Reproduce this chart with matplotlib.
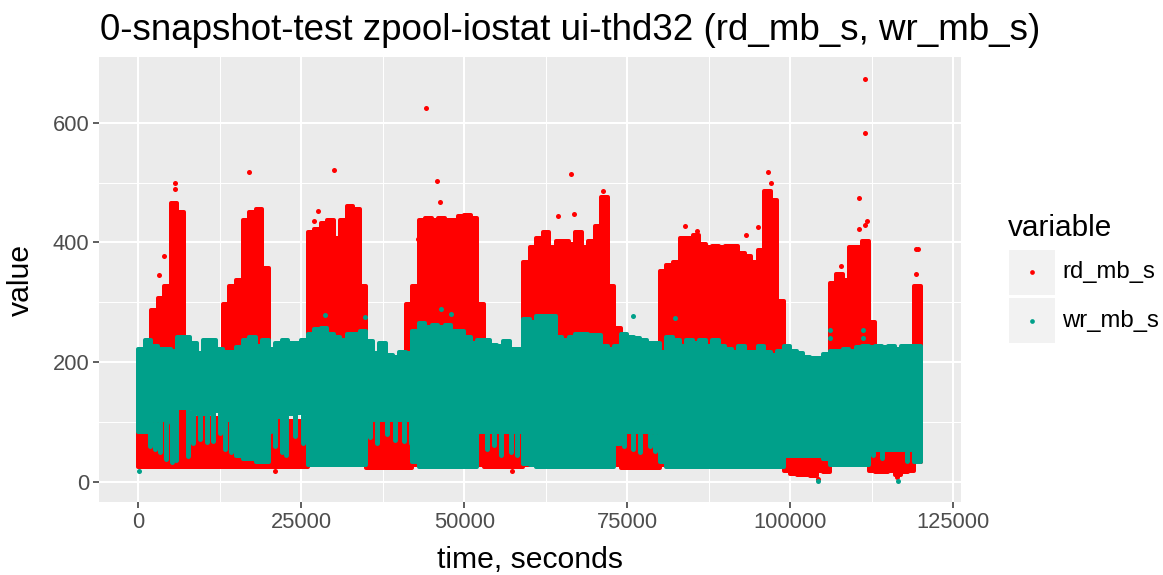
import numpy as np
import matplotlib
matplotlib.use("Agg")
import matplotlib.pyplot as plt
from matplotlib import font_manager
from matplotlib.lines import Line2D
from matplotlib.patches import Rectangle

# Helvetica-like font (Arial metrics)
avail = {f.name for f in font_manager.fontManager.ttflist}
prefs = ["Liberation Sans", "Arimo", "DejaVu Sans"]
fams = [f for f in prefs if f in avail][:1] + ["DejaVu Sans"]
plt.rcParams["font.family"] = fams

RD = "#FF0000"
WR = "#00A08A"

# time bins of 1000 s, 0 .. 120000 s
bin_w = 1000
n_bins = 120

# rd_mb_s: dense band per bin (low edge, high edge)
rd_lo = [22, 22, 22, 22, 22, 22, 22, 22, 22, 22, 22, 22, 22, 22, 22, 22, 22, 22, 22, 22,
         22, 22, 22, 22, 22, 22, 25, 25, 25, 25, 25, 25, 25, 25, 25, 20, 20, 20, 20, 20,
         20, 20, 25, 25, 25, 25, 25, 25, 25, 25, 25, 25, 25, 22, 22, 22, 22, 22, 22, 25,
         25, 25, 25, 25, 25, 25, 25, 25, 25, 25, 25, 25, 25, 25, 20, 20, 20, 20, 20, 20,
         25, 25, 25, 25, 25, 25, 25, 25, 25, 25, 25, 25, 25, 25, 25, 25, 25, 25, 25, 15,
         10, 8, 8, 6, 14, 12, 25, 25, 25, 25, 25, 25, 15, 12, 12, 15, 8, 12, 15, 30]
rd_hi = [150, 150, 290, 310, 330, 470, 455, 110, 110, 110, 110, 110, 110, 300, 330, 340, 440, 455, 460, 360,
         105, 105, 105, 105, 105, 105, 420, 425, 435, 440, 410, 440, 465, 460, 330, 105, 105, 105, 105, 105,
         105, 300, 330, 440, 445, 440, 445, 440, 440, 448, 450, 445, 300, 90, 90, 90, 90, 90, 90, 370,
         395, 410, 420, 395, 405, 405, 400, 420, 395, 405, 430, 480, 330, 260, 80, 80, 80, 80, 80, 150,
         355, 365, 370, 410, 410, 415, 400, 395, 398, 395, 398, 398, 385, 380, 370, 390, 490, 475, 305, 200,
         60, 60, 60, 60, 60, 120, 335, 350, 340, 395, 395, 405, 270, 65, 65, 65, 65, 65, 80, 330]

# wr_mb_s: dense band per bin
wr_lo = [80, 80, 100, 100, 100, 95, 120, 120, 120, 110, 110, 115, 115, 100, 100, 40, 35, 35, 30, 30,
         105, 105, 110, 110, 112, 112, 25, 25, 25, 25, 25, 25, 25, 25, 25, 100, 100, 100, 100, 100,
         100, 100, 30, 22, 22, 22, 22, 22, 22, 22, 22, 22, 80, 80, 80, 80, 80, 80, 80, 26,
         24, 22, 22, 22, 22, 22, 22, 22, 22, 22, 22, 22, 22, 60, 80, 80, 80, 80, 80, 80,
         30, 22, 22, 22, 22, 22, 22, 22, 22, 22, 22, 22, 22, 22, 22, 22, 22, 22, 22, 40,
         40, 40, 40, 40, 40, 35, 24, 24, 24, 24, 24, 24, 50, 50, 50, 50, 50, 50, 50, 30]
wr_hi = [225, 240, 230, 225, 225, 222, 245, 245, 235, 218, 240, 240, 225, 220, 220, 228, 240, 245, 230, 240,
         225, 235, 240, 235, 235, 240, 250, 258, 260, 250, 245, 240, 250, 250, 255, 238, 218, 235, 215, 212,
         220, 218, 255, 268, 262, 265, 262, 265, 255, 255, 245, 235, 240, 240, 232, 230, 238, 225, 225, 275,
         270, 280, 280, 280, 245, 240, 245, 250, 250, 248, 248, 230, 225, 230, 250, 245, 243, 240, 235, 235,
         220, 245, 240, 230, 240, 235, 240, 230, 240, 230, 225, 220, 230, 220, 220, 230, 220, 215, 222, 230,
         222, 218, 211, 210, 210, 216, 222, 222, 225, 222, 228, 230, 228, 230, 228, 230, 225, 230, 230, 230]

# sparse wr streaks below the dense band: time, bottom, top
wr_streak_t = [1800, 2600, 3300, 4300, 5200, 5800, 7700, 8400, 9500, 10600, 11500, 12500, 13300, 14200,
               20300, 21000, 22100, 22700, 24100, 25200, 35500, 36600, 38200, 39400, 40700, 41800,
               53500, 54500, 55700, 57200, 58100, 74500, 75800, 77000, 78400, 79300,
               112600, 114000, 117800]
wr_streak_lo = [55, 50, 45, 34, 28, 32, 39, 60, 67, 62, 64, 78, 50, 45,
                80, 55, 46, 40, 73, 60, 70, 60, 75, 65, 63, 60,
                50, 57, 40, 45, 40, 56, 50, 45, 55, 47,
                40, 35, 30]
wr_streak_hi = [100, 100, 100, 100, 100, 100, 120, 120, 110, 110, 115, 115, 100, 100,
                105, 105, 110, 110, 112, 112, 100, 100, 100, 100, 100, 100,
                80, 80, 80, 80, 80, 80, 80, 80, 80, 80,
                50, 50, 50]

# isolated points
rd_out_t = [3200, 4000, 5600, 5650, 17060, 26900, 27500, 29990, 42950, 44140, 45830, 46340,
            64300, 66370, 66800, 71300, 83900, 85700, 93200, 95100, 96500, 97000, 107800,
            110460, 110460, 111380, 111380, 111380, 111790, 119200, 119300, 119600,
            21000, 57300, 104300, 116330]
rd_out_v = [346, 377, 500, 490, 517, 436, 452, 521, 406, 625, 503, 468,
            444, 514, 447, 486, 427, 419, 413, 425, 517, 500, 361,
            475, 423, 674, 583, 429, 435, 389, 348, 389,
            18, 18, 4, 7]
wr_out_t = [100, 28700, 34800, 46400, 48000, 75870, 82360, 106000, 106000, 111100, 111100, 104220, 116480]
wr_out_v = [17, 279, 276, 289, 280, 277, 274, 253, 241, 253, 241, 1, 1]

title = "0-snapshot-test zpool-iostat ui-thd32 (rd_mb_s, wr_mb_s)"

W, H = 1163, 575
fig = plt.figure(figsize=(W / 100, H / 100), dpi=100)
L, R, T, B = 99, 961, 57, 502
ax = fig.add_axes([L / W, 1 - B / H, (R - L) / W, (B - T) / H])
ax.set_facecolor("#EBEBEB")
xlim = (-6000, 126150)
ylim = (-34, 710)
ax.set_xlim(*xlim)
ax.set_ylim(*ylim)
for s in ax.spines.values():
    s.set_visible(False)

ax.set_xticks([0, 25000, 50000, 75000, 100000, 125000])
ax.set_xticks([12500, 37500, 62500, 87500, 112500], minor=True)
ax.set_yticks([0, 200, 400, 600])
ax.set_yticks([100, 300, 500], minor=True)
ax.grid(which="major", color="white", lw=1.5)
ax.grid(which="minor", color="white", lw=0.75)
ax.set_axisbelow(True)
ax.tick_params(which="major", length=4, width=1.1, color="#333333",
               labelcolor="#4D4D4D", pad=3)
ax.tick_params(which="minor", length=0)

# pixel scales
px_per_y = (B - T) / (ylim[1] - ylim[0])
edge_px = 4.0
pad = (edge_px / 2) / px_per_y
edges = np.arange(n_bins + 1) * bin_w


def cloud(lo, hi, color, z):
    lo = np.asarray(lo, float) + pad
    hi = np.maximum(np.asarray(hi, float) - pad, lo)
    lo = np.append(lo, lo[-1])
    hi = np.append(hi, hi[-1])
    ax.fill_between(edges, lo, hi, step="post", facecolor=color, edgecolor=color,
                    lw=edge_px * 0.72, joinstyle="round", zorder=z)


cloud(rd_lo, rd_hi, RD, 2)
ax.scatter(rd_out_t, rd_out_v, s=13, color=RD, lw=0, zorder=2)

cloud(wr_lo, wr_hi, WR, 3)
spad = 2.5 / px_per_y
ax.vlines(wr_streak_t, np.array(wr_streak_lo) + spad, wr_streak_hi, colors=WR, lw=3.6,
          capstyle="round", zorder=3)
ax.scatter(wr_out_t, wr_out_v, s=13, color=WR, lw=0, zorder=3)

# text, sized to the measured widths in the reference
rend = fig.canvas.get_renderer()


def fit(t, target_w, size=12):
    t.set_fontsize(size)
    w = t.get_window_extent(rend).width
    t.set_fontsize(size * target_w / w)
    return t.get_fontsize()


probe = fig.text(0, 0, "25000")
tick_fs = fit(probe, 61)
probe.remove()
ax.tick_params(labelsize=tick_fs)

tt = fig.text(100 / W, 1 - 40 / H, title, ha="left", va="baseline", color="black")
fit(tt, 943)
xl = fig.text((L + R) / 2 / W, 1 - 568 / H, "time, seconds", ha="center", va="baseline")
axis_fs = fit(xl, 186)
fig.text(21 / W, 1 - (T + B) / 2 / H, "value", fontsize=axis_fs, rotation=90,
         ha="center", va="center")

# legend
lt = fig.text(1008 / W, 1 - 228 / H, "variable", ha="left", va="center")
fit(lt, 105)
leg_fs = None
for i, (lab, col) in enumerate([("rd_mb_s", RD), ("wr_mb_s", WR)]):
    y0 = 250 + i * 48
    fig.patches.append(Rectangle((1009 / W, 1 - (y0 + 45) / H), 46 / W, 45 / H,
                                 transform=fig.transFigure, facecolor="#F2F2F2",
                                 edgecolor="none", figure=fig))
    fig.lines.append(Line2D([1032 / W], [1 - (y0 + 22.5) / H], transform=fig.transFigure,
                            marker="o", ms=3.4, mew=0, color=col, figure=fig))
    lb = fig.text(1062 / W, 1 - (y0 + 22.5) / H, lab, ha="left", va="center")
    if leg_fs is None:
        leg_fs = fit(lb, 93)
    else:
        lb.set_fontsize(leg_fs)

fig.savefig("out.png", dpi=100)
